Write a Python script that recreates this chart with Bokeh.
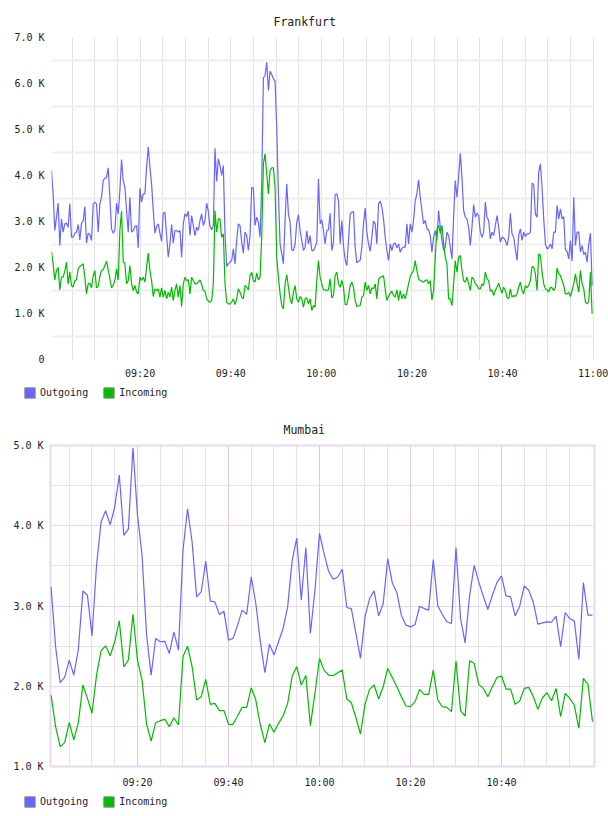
from bokeh.plotting import figure
from bokeh.models import FixedTicker, Legend, LegendItem, Title, Range1d
from bokeh.layouts import column
from bokeh.embed import file_html
from bokeh.resources import INLINE

# ---------------- data ----------------
# Frankfurt: samples every ~22 s starting 09:00:26 (minutes after 09:00)
fra_start_sec = 26
fra_step_sec = 22.1

fra_outgoing = [
    4108, 3601, 2804, 3094, 3398, 2478, 3058, 2768, 2949, 2964,
    2877, 3384, 2659, 2659, 2746, 2768, 2935, 2601, 2964, 3007,
    3326, 2529, 2746, 2717, 2587, 3384, 3420, 3384, 2768, 3384,
    3529, 3891, 3942, 3964, 4166, 3529, 2840, 2746, 2804, 3398,
    3166, 3674, 4348, 3891, 3746, 3239, 2768, 3529, 2768, 2804,
    2891, 2913, 2427, 3724, 3420, 3601, 3601, 4181, 4616, 4181,
    3819, 3239, 2746, 2891, 2949, 2746, 2572, 3181, 3203, 2695,
    2224, 2514, 2935, 2529, 2804, 2804, 2768, 2804, 2224, 2949,
    3166, 3108, 3224, 2695, 3130, 2913, 2695, 2877, 2804, 3022,
    3166, 2913, 3022, 3398, 3224, 2891, 2819, 2913, 4594, 3869,
    4362, 4217, 4000, 4217, 2732, 2022, 2080, 2116, 2152, 2406,
    2080, 2587, 2949, 2913, 2551, 2311, 2768, 2695, 2369, 2695,
    3746, 3724, 2913, 3094, 2985, 2659, 3819, 6123, 6174, 6463,
    5847, 6268, 6195, 6101, 6050, 5050, 3601, 2514, 2297, 2080,
    3022, 3819, 3166, 2985, 2384, 2369, 2514, 2985, 3152, 2804,
    2587, 2369, 2442, 2804, 2514, 2695, 2369, 2369, 2442,
    2551, 3927, 2949, 3036, 2804, 2514, 2804, 2819, 3181, 2369,
    2551, 3587, 3601, 3456, 2514, 3022, 2478, 2167, 2043, 2587,
    3166, 3203, 3217, 2442, 2101, 2138, 2152, 2442, 2949, 3297,
    2768, 2514, 2348, 2659, 3007, 2949, 2514, 3384, 3442, 3311,
    3058, 2659, 2369, 2152, 2514, 2369, 2514, 2529, 2427, 2514,
    2333, 2420, 2442, 2442, 2949, 2514, 2949, 2768, 3022, 3456,
    3601, 3906, 3529, 3239, 2949, 3022, 2840, 2819, 2695, 2333,
    2659, 2804, 2587, 3239, 2877, 2587, 2369, 2442, 2768, 2695,
    2442, 2188, 3094, 3891, 3529, 3964, 4485, 3964, 3239, 3094,
    3058, 2877, 2478, 2877, 3369, 3094, 3181, 3130, 2768, 2659,
    2768, 3420, 3094, 3022, 2623, 2768, 2695, 2913, 3130, 2877,
    2551, 2659, 2645, 2587, 2478, 2659, 3181, 2732, 2659, 2406,
    2152, 2695, 2840, 2587, 2768, 2674, 2732, 2732, 2768, 3833,
    3804, 3166, 3094, 4072, 4253, 3746, 3058, 2514, 2406, 2427,
    2514, 2406, 2768, 2768, 3348, 3058, 3275, 3058, 3108, 2384,
    2348, 2188, 2587, 2138, 3529, 2478, 2768, 2768, 2333, 2478,
    2282, 2333, 2116, 2514, 2746, 1609,
]

fra_incoming = [
    2348, 2080, 1732, 1935, 2007, 1514, 1790, 1790, 1920, 2116,
    1645, 1898, 1609, 1572, 1717, 1732, 1971, 2022, 2050, 2080,
    1790, 1427, 1645, 1659, 1558, 1826, 1935, 1558, 1587, 1804,
    1935, 1949, 2043, 2138, 1949, 1753, 1558, 1609, 1717, 1971,
    1732, 2804, 3224, 2116, 2094, 1645, 1717, 2043, 1645, 1500,
    1609, 1464, 1427, 1790, 1717, 1790, 1681, 2007, 2311, 1935,
    1717, 1369, 1536, 1500, 1536, 1355, 1558, 1355, 1500, 1319,
    1464, 1355, 1572, 1282, 1500, 1645, 1355, 1609, 1152, 1645,
    1790, 1717, 1732, 1427, 1790, 1717, 1645, 1645, 1681, 1732,
    1630, 1500, 1485, 1319, 1268, 1246, 1282, 1645, 3239, 2768,
    3058, 3058, 2659, 2732, 1645, 1246, 1210, 1210, 1246, 1319,
    1195, 1319, 1536, 1464, 1355, 1319, 1609, 1572, 1514, 1826,
    1898, 1717, 1681, 1877, 1732, 1790, 2659, 4253, 4471, 4036,
    3601, 4108, 4166, 4166, 3746, 2224, 1790, 1427, 1174, 1101,
    1645, 1848, 1572, 1319, 1210, 1464, 1609, 1319, 1246, 1369,
    1319, 1138, 1319, 1340, 1210, 1319, 1065, 1174, 1138,
    1717, 2152, 1790, 1645, 1514, 1514, 1500, 1514, 1753, 1340,
    1391, 1826, 1898, 1645, 1572, 1717, 1572, 1195, 1195, 1355,
    1609, 1681, 1572, 1282, 1152, 1167, 1174, 1355, 1391, 1681,
    1500, 1609, 1427, 1558, 1536, 1645, 1319, 1732, 1790, 1790,
    1826, 1536, 1282, 1369, 1442, 1485, 1391, 1355, 1514, 1282,
    1500, 1319, 1427, 1319, 1464, 1645, 1804, 1877, 1935, 2152,
    1935, 1753, 1717, 1703, 1681, 1717, 1732, 1645, 1717, 1297,
    1500, 2224, 2840, 2913, 2746, 2913, 2529, 2224, 2080, 1319,
    1319, 1174, 1645, 2152, 1898, 2224, 2261, 1935, 1717, 1681,
    1790, 1645, 1500, 1790, 1753, 1645, 1609, 1536, 1536, 1645,
    1609, 1898, 1753, 1717, 1485, 1514, 1391, 1500, 1572, 1659,
    1536, 1442, 1572, 1500, 1355, 1319, 1536, 1355, 1391, 1369,
    1427, 1572, 1681, 1500, 1427, 1609, 1558, 1609, 1717, 2022,
    2007, 1862, 1500, 2297, 2261, 1898, 1645, 1536, 1514, 1464,
    1572, 1558, 1500, 1572, 1993, 1862, 1826, 1717, 1609, 1427,
    1427, 1464, 1369, 1500, 1645, 1862, 1645, 1464, 1935, 1645,
    1536, 1246, 1210, 1268, 1898, 993,
]

fra_minutes = [(fra_start_sec + fra_step_sec * i) / 60.0 for i in range(len(fra_outgoing))]

# Mumbai: one sample per minute, 09:01 .. 11:00 (minutes after 09:00)
mum_minutes = list(range(1, 121))

mum_outgoing = [
    3238, 2492, 2044, 2110, 2326, 2139, 2459, 3188, 3134, 2628,
    3507, 4051, 4187, 4013, 4237, 4631, 3881, 3959, 4971, 4129,
    3632, 2637, 2139, 2595, 2554, 2558, 2409, 2678, 2450, 3694,
    4212, 3798, 3114, 3176, 3561, 3060, 3051, 2894, 2935, 2575,
    2595, 2761, 2948, 2898, 3362, 3031, 2554, 2168, 2525, 2388,
    2554, 2720, 2989, 3570, 3847, 3072, 3727, 2658, 3197, 3905,
    3653, 3433, 3333, 3362, 3458, 2981, 2968, 2658, 2347, 2865,
    3093, 3188, 2877, 3031, 3590, 3288, 3167, 2886, 2761, 2740,
    2769, 2997, 2968, 2948, 3578, 3002, 2894, 2803, 2782, 3727,
    2844, 2541, 3134, 3507, 3300, 3122, 2956, 3134, 3292, 3375,
    3126, 3114, 2877, 2997, 3250, 3197, 3043, 2774, 2790, 2803,
    2799, 2873, 2492, 2919, 2844, 2815, 2334, 3292, 2886, 2886,
]

mum_incoming = [
    1890, 1497, 1248, 1298, 1551, 1331, 1546, 2015, 1849, 1663,
    2139, 2442, 2504, 2380, 2554, 2815, 2243, 2326, 2898, 2326,
    2077, 1526, 1318, 1546, 1571, 1588, 1497, 1608, 1517, 2367,
    2500, 2243, 1828, 1870, 2085, 1774, 1787, 1696, 1696, 1526,
    1526, 1629, 1737, 1737, 1982, 1828, 1517, 1298, 1530, 1426,
    1538, 1629, 1787, 2127, 2243, 2015, 2135, 1509, 1911, 2346,
    2201, 2139, 2131, 2168, 2201, 1841, 1795, 1608, 1405, 1774,
    1961, 2015, 1841, 1994, 2222, 2110, 1994, 1870, 1754, 1745,
    1808, 1961, 1899, 1899, 2201, 1828, 1745, 1737, 1683, 2313,
    1696, 1629, 2318, 2284, 2023, 1973, 1870, 1994, 2110, 2127,
    1965, 1965, 1774, 1816, 1973, 1986, 1870, 1712, 1857, 1919,
    1820, 1973, 1621, 1911, 1849, 1766, 1476, 2098, 2023, 1559,
]

time_tick_minutes = [20, 40, 60, 80, 100, 120]
time_tick_labels = ["09:20", "09:40", "10:00", "10:20", "10:40", "11:00"]

fra_yticks = [0, 1000, 2000, 3000, 4000, 5000, 6000, 7000]
fra_ylabels = ["0", "1.0 K", "2.0 K", "3.0 K", "4.0 K", "5.0 K", "6.0 K", "7.0 K"]
mum_yticks = [1000, 2000, 3000, 4000, 5000]
mum_ylabels = ["1.0 K", "2.0 K", "3.0 K", "4.0 K", "5.0 K"]

series_names = ["Outgoing", "Incoming"]

# ---------------- style ----------------
BLUE = "#6666ff"
GREEN = "#00bb00"
FONT = "DejaVu Sans Mono"
TXT = "#222222"


def style_axes(p, xticks, xlabels, yticks, ylabels, xstand, ystand):
    p.xaxis.ticker = FixedTicker(ticks=xticks)
    p.xaxis.major_label_overrides = dict(zip(xticks, xlabels))
    p.yaxis.ticker = FixedTicker(ticks=yticks)
    p.yaxis.major_label_overrides = dict(zip(yticks, ylabels))
    for ax in (p.xaxis[0], p.yaxis[0]):
        ax.axis_line_color = None
        ax.major_tick_line_color = None
        ax.minor_tick_line_color = None
        ax.major_tick_out = 0
        ax.major_tick_in = 0
        ax.minor_tick_out = 0
        ax.minor_tick_in = 0
        ax.major_label_text_font = FONT
        ax.major_label_text_font_size = "10px"
        ax.major_label_text_color = TXT
    p.xaxis.major_label_standoff = xstand
    p.yaxis.major_label_standoff = ystand


def legend_figure(height, bottom):
    lf = figure(width=608, height=height, x_range=Range1d(0, 1), y_range=Range1d(0, 1),
                x_axis_type=None, y_axis_type=None, output_backend="svg", toolbar_location=None,
                min_border=0, min_border_left=0, min_border_right=0,
                min_border_top=0, min_border_bottom=0)
    lf.frame_align = False
    lf.grid.visible = False
    lf.outline_line_color = None
    lf.background_fill_color = "white"
    lf.border_fill_color = "white"
    # swatch glyphs kept outside the visible range; only their legend entries show
    r1 = lf.quad(left=[5], right=[6], top=[6], bottom=[5], fill_color=BLUE, line_color="#8c8c8c", line_width=1)
    r2 = lf.quad(left=[5], right=[6], top=[6], bottom=[5], fill_color=GREEN, line_color="#8c8c8c", line_width=1)
    leg = Legend(items=[LegendItem(label=series_names[0], renderers=[r1]),
                        LegendItem(label=series_names[1], renderers=[r2])],
                 location=(23, bottom), orientation="horizontal",
                 glyph_width=13, glyph_height=13, label_standoff=4, spacing=14,
                 padding=0, margin=0, border_line_color=None, background_fill_alpha=0,
                 label_text_font=FONT, label_text_font_size="10px", label_text_color=TXT,
                 label_height=13, label_text_baseline="middle")
    lf.add_layout(leg)
    return lf


# ---------------- Frankfurt ----------------
p1 = figure(width=608, height=381, x_range=Range1d(0.44, 120.3), y_range=Range1d(0, 7000),
            output_backend="svg", toolbar_location=None,
            min_border_left=51, min_border_right=14, min_border_top=37, min_border_bottom=22)
p1.frame_align = False
p1.add_layout(Title(text="Frankfurt", align="left", offset=222, standoff=17, text_font=FONT,
                    text_font_size="11.5px", text_font_style="normal", text_color=TXT), "above")
p1.outline_line_color = None
p1.background_fill_color = "white"
p1.border_fill_color = "white"
p1.xgrid.ticker = FixedTicker(ticks=list(range(5, 121, 5)))
p1.xgrid.grid_line_color = "#e2e2e2"
p1.xgrid.grid_line_width = 1
p1.ygrid.ticker = FixedTicker(ticks=[500, 1500, 2500, 3500, 4500, 5500, 6500])
p1.ygrid.grid_line_color = "#eeeeee"
p1.ygrid.grid_line_width = 2
style_axes(p1, time_tick_minutes, time_tick_labels, fra_yticks, fra_ylabels, 8, 7)
p1.line(fra_minutes, fra_outgoing, line_color=BLUE, line_width=1.2)
p1.line(fra_minutes, fra_incoming, line_color=GREEN, line_width=1.2)

leg1 = legend_figure(24, 6.5)

# ---------------- Mumbai ----------------
p2 = figure(width=608, height=385, x_range=Range1d(0.88, 120.44), y_range=Range1d(1000, 5000),
            output_backend="svg", toolbar_location=None,
            min_border_left=50, min_border_right=14, min_border_top=40, min_border_bottom=24)
p2.frame_align = False
p2.add_layout(Title(text="Mumbai", align="left", offset=233, standoff=17, text_font=FONT,
                    text_font_size="11.5px", text_font_style="normal", text_color=TXT), "above")
p2.outline_line_color = "#ead8ee"
p2.outline_line_width = 2
p2.background_fill_color = "white"
p2.border_fill_color = "white"
p2.xgrid.ticker = FixedTicker(ticks=[20, 40, 60, 80, 100],
                              minor_ticks=[m for m in range(5, 121, 5) if m % 20 != 0])
p2.xgrid.grid_line_color = "#dcc8e0"
p2.xgrid.minor_grid_line_color = "#e8e0ea"
p2.ygrid.ticker = FixedTicker(ticks=[1000, 2000, 3000, 4000, 5000],
                              minor_ticks=[1500, 2500, 3500, 4500])
p2.ygrid.grid_line_color = "#ead6ec"
p2.ygrid.minor_grid_line_color = "#e8e0ea"
style_axes(p2, time_tick_minutes[:-1], time_tick_labels[:-1], mum_yticks, mum_ylabels, 10, 7)
p2.line(mum_minutes, mum_outgoing, line_color=BLUE, line_width=1.2)
p2.line(mum_minutes, mum_incoming, line_color=GREEN, line_width=1.2)

leg2 = legend_figure(26, 8.5)

layout = column(p1, leg1, p2, leg2, spacing=0)
open("out.html", "w").write(file_html(layout, INLINE))
